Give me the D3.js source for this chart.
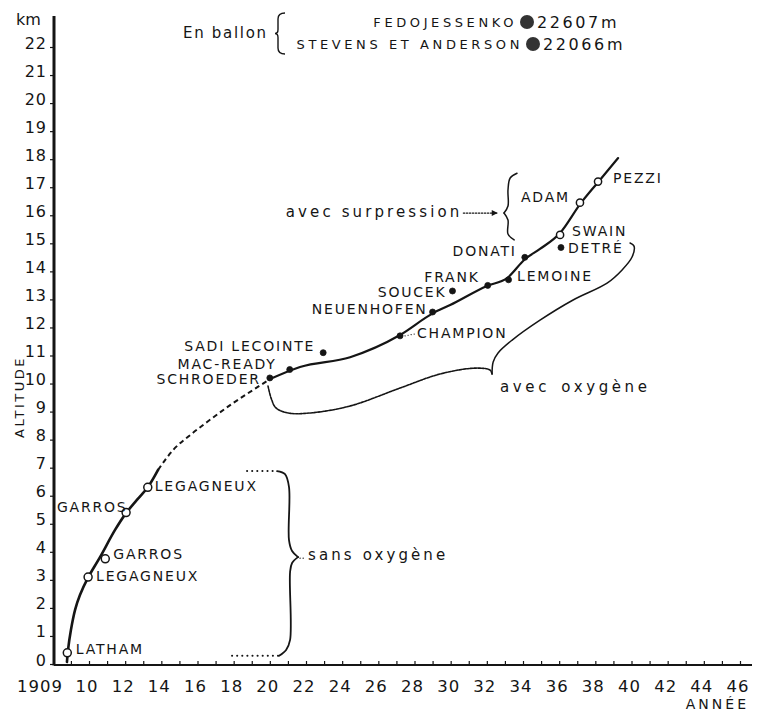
<!DOCTYPE html>
<html><head><meta charset="utf-8">
<script src="https://cdn.jsdelivr.net/npm/d3@7"></script>
<style>
body{margin:0;background:#fff}
svg{display:block}
text{font-family:"DejaVu Sans",sans-serif;fill:#151515}
</style></head><body>
<svg id="c" width="757" height="717"></svg>
<script>
// ---------- data ----------
const pilots = ["LATHAM","LEGAGNEUX","GARROS","GARROS","LEGAGNEUX","SCHROEDER","MAC-READY","SADI LECOINTE","CHAMPION","NEUENHOFEN","SOUCEK","FRANK","LEMOINE","DONATI","SWAIN","DETRÉ","ADAM","PEZZI"];
const recordYears = [1908.8,1909.95,1910.9,1912.05,1913.25,1920,1921.1,1922.95,1927.2,1929.0,1930.1,1932.05,1933.2,1934.1,1936.05,1936.1,1937.15,1938.15];
const recordAltitudes = [0.4,3.1,3.75,5.4,6.3,10.2,10.5,11.1,11.7,12.55,13.3,13.5,13.7,14.5,15.3,14.85,16.45,17.2];
const recordGroups = ["sans","sans","sans","sans","sans","oxy","oxy","oxy","oxy","oxy","oxy","oxy","oxy","oxy","surp","oxy","surp","surp"];

const balloonNames = ["FEDOJESSENKO","STEVENS ET ANDERSON"];
const balloonAltitudes = ["22607m","22066m"];

// trend curves: [year, km]
const curveEarlyYears = [1908.78,1908.84,1909.0,1909.23,1909.5,1909.94,1910.61,1911.44,1912.05,1912.65,1913.26,1913.82];
const curveEarlyKm    = [0.07,0.5,1.21,1.93,2.46,3.07,3.81,4.78,5.38,5.85,6.31,6.92];
const curveGapYears = [1913.82,1914.65,1915.59,1916.53,1917.96,1919.07,1920.01];
const curveGapKm    = [6.92,7.63,8.16,8.63,9.3,9.77,10.16];
const curveLateYears = [1920.01,1921.67,1924.44,1927.2,1929.03,1929.97,1932.01,1933.12,1934.12,1934.94,1936.05,1937.16,1938.15,1939.26];
const curveLateKm    = [10.16,10.59,10.94,11.73,12.51,12.8,13.48,13.76,14.44,14.8,15.37,16.4,17.18,18.04];

// brace "avec oxygène" (two halves meeting at the tip)
const oxyLeftYears = [1919.9,1920.07,1920.34,1921.01,1922.22,1924.44,1927.2,1929.41,1931.35,1932.18,1932.29];
const oxyLeftKm    = [9.91,9.48,9.13,8.95,8.95,9.2,9.84,10.34,10.55,10.48,10.34];
const oxyRightYears = [1932.29,1932.35,1932.62,1933.4,1934.94,1936.77,1938.65,1939.48,1940.03,1940.14,1939.92];
const oxyRightKm    = [10.34,10.77,11.09,11.55,12.26,12.98,13.58,14.05,14.51,14.9,15.01];
// brace "sans oxygène"
const sansTopYears = [1920.4,1920.84,1921.06,1921.06,1921.23,1921.56];
const sansTopKm    = [6.88,6.77,6.31,4.42,4.03,3.81];
const sansBotYears = [1921.56,1921.23,1921.12,1921.12,1920.9,1920.51];
const sansBotKm    = [3.81,3.6,3.28,0.86,0.5,0.29];
const sansDotTopYears = [1918.74,1920.4];
const sansDotTopKm = [6.88,6.88];
const sansDotBotYears = [1917.91,1920.51];
const sansDotBotKm = [0.29,0.29];
// brace "avec surpression"
const surpTopYears = [1933.67,1933.29,1933.17,1933.17,1932.95];
const surpTopKm    = [17.5,17.33,16.9,16.33,16.08];
const surpBotYears = [1932.95,1933.17,1933.17,1933.51];
const surpBotKm    = [16.08,15.83,15.33,15.12];
const surpArrowYears = [1930.7,1932.55];
const surpArrowKm = [16.08,16.08];

const yTicks = d3.range(0,23);
const yTickLabels = ["0","1","2","3","4","5","6","7","8","9","10","11","12","13","14","15","16","17","18","19","20","21","22"];
const xTickValues = [1909,1910,1912,1914,1916,1918,1920,1922,1924,1926,1928,1930,1932,1934,1936,1938,1940,1942,1944,1946];
const xTickLabels = ["1909","10","12","14","16","18","20","22","24","26","28","30","32","34","36","38","40","42","44","46"];
const xMinorTicks = d3.range(1909,1947);

// ---------- layout ----------
const ink = "#151515";
const svg = d3.select("#c");
const x = d3.scaleLinear().domain([1910,1946]).range([89,740]);
const y = d3.scaleLinear().domain([0,22]).range([664,47]);
const axisX = 54;

// label offsets per record [anchor, dx, dy]
const labelLayout = [
 ["start",8.5,-4],["start",8,-1],["start",8,-5],["end",1.5,-6],["start",7,-1],
 ["end",-9,1],["end",-13,-6],["end",-8,-7],["start",17,-3],["end",-5,-3],
 ["end",-6,1.5],["end",-8,-8.5],["start",8.5,-4],["end",-8,-6],["start",12,-4],
 ["start",7,0],["end",-10,-6],["start",15,-4]
];

// Y axis
const yAxis = d3.axisLeft(y).tickValues(yTicks).tickSize(4).tickFormat("");
const gy = svg.append("g").attr("transform",`translate(${axisX},0)`).call(yAxis);
gy.select(".domain").remove();
gy.selectAll(".tick line").attr("stroke",ink).attr("stroke-width",1.2);
svg.append("line").attr("x1",axisX).attr("x2",axisX).attr("y1",y(0)+1.5).attr("y2",16)
  .attr("stroke",ink).attr("stroke-width",3);
svg.selectAll(".ylab").data(yTicks).enter().append("text")
  .attr("x",47).attr("y",d=>y(d)-4).attr("text-anchor","end")
  .attr("dominant-baseline","central").attr("font-size",16).attr("letter-spacing",1)
  .text((d,i)=>yTickLabels[i]);
svg.append("text").attr("x",16).attr("y",19).attr("dominant-baseline","central")
  .attr("font-size",16).text("km");
svg.append("text").attr("transform","translate(19,397) rotate(-90)").attr("text-anchor","middle")
  .attr("dominant-baseline","central").attr("font-size",13).attr("letter-spacing",2.5).text("ALTITUDE");

// X axis
const xAxis = d3.axisBottom(x).tickValues(xMinorTicks).tickSize(-4).tickFormat("");
const gx = svg.append("g").attr("transform",`translate(0,${y(0)+1})`).call(xAxis);
gx.select(".domain").remove();
gx.selectAll(".tick line").attr("stroke",ink).attr("stroke-width",1.2);
svg.append("line").attr("x1",axisX).attr("x2",752).attr("y1",y(0)+1).attr("y2",y(0)+1)
  .attr("stroke",ink).attr("stroke-width",2);
svg.selectAll(".xlab").data(xTickValues).enter().append("text")
  .attr("x",(d,i)=> i===0 ? x(d)-8 : x(d)-2)
  .attr("text-anchor",(d,i)=> i===0 ? "end":"middle")
  .attr("y",686).attr("dominant-baseline","central").attr("font-size",16.5).attr("letter-spacing",1)
  .text((d,i)=>xTickLabels[i]);
svg.append("text").attr("x",749).attr("y",704).attr("text-anchor","end")
  .attr("dominant-baseline","central").attr("font-size",14).attr("letter-spacing",3).text("ANNÉE");

// helpers
const pts = (xs,ys)=> xs.map((v,i)=>[v,ys[i]]);
const line = d3.line().x(d=>x(d[0])).y(d=>y(d[1])).curve(d3.curveCatmullRom.alpha(0.5));
const smooth = d3.line().x(d=>x(d[0])).y(d=>y(d[1])).curve(d3.curveMonotoneX);
const straight = d3.line().x(d=>x(d[0])).y(d=>y(d[1]));

// trend curves
svg.append("path").attr("d",line(pts(curveEarlyYears,curveEarlyKm)))
  .attr("fill","none").attr("stroke",ink).attr("stroke-width",2.6).attr("stroke-linecap","round");
svg.append("path").attr("d",smooth(pts(curveGapYears,curveGapKm)))
  .attr("fill","none").attr("stroke",ink).attr("stroke-width",2).attr("stroke-dasharray","5,3.5");
svg.append("path").attr("d",smooth(pts(curveLateYears,curveLateKm)))
  .attr("fill","none").attr("stroke",ink).attr("stroke-width",2.2).attr("stroke-linecap","round");

// braces
const braceStyle = (p,w,dash)=> p.attr("fill","none").attr("stroke",ink).attr("stroke-width",w)
  .attr("stroke-dasharray",dash||null).attr("stroke-linecap","round");
braceStyle(svg.append("path").attr("d",line(pts(oxyLeftYears,oxyLeftKm))),1.6,"2.5,1.2");
braceStyle(svg.append("path").attr("d",line(pts(oxyRightYears,oxyRightKm))),1.5);
braceStyle(svg.append("path").attr("d",line(pts(sansTopYears,sansTopKm))),1.8);
braceStyle(svg.append("path").attr("d",line(pts(sansBotYears,sansBotKm))),1.8);
braceStyle(svg.append("path").attr("d",straight(pts(sansDotTopYears,sansDotTopKm))),2,"0.1,5");
braceStyle(svg.append("path").attr("d",straight(pts(sansDotBotYears,sansDotBotKm))),2,"0.1,5");
braceStyle(svg.append("path").attr("d",line(pts(surpTopYears,surpTopKm))),1.5);
braceStyle(svg.append("path").attr("d",line(pts(surpBotYears,surpBotKm))),1.5);
braceStyle(svg.append("path").attr("d",straight(pts(surpArrowYears,surpArrowKm))),1.2,"1.5,1.5");
{
  const ax = x(surpArrowYears[1]), ay = y(surpArrowKm[1]);
  svg.append("path").attr("d",`M${ax-5},${ay-3}L${ax+1},${ay}L${ax-5},${ay+3}Z`).attr("fill",ink);
}

// annotations
const tipOxy = [x(oxyLeftYears[oxyLeftYears.length-1]), y(oxyLeftKm[oxyLeftKm.length-1])];
svg.append("text").attr("x",tipOxy[0]+8).attr("y",tipOxy[1]+13).attr("dominant-baseline","central")
  .attr("font-size",15).attr("letter-spacing",3.6).attr("word-spacing",3).text("avec oxygène");
const tipSans = [x(sansTopYears[sansTopYears.length-1]), y(sansTopKm[sansTopKm.length-1])];
braceStyle(svg.append("line").attr("x1",tipSans[0]+2).attr("x2",tipSans[0]+8)
  .attr("y1",tipSans[1]+1).attr("y2",tipSans[1]+1),1.3,"0.1,3");
svg.append("text").attr("x",tipSans[0]+10).attr("y",tipSans[1]-2).attr("dominant-baseline","central")
  .attr("font-size",15).attr("letter-spacing",3.1).text("sans oxygène");
svg.append("text").attr("x",x(surpArrowYears[0])-1).attr("y",y(surpArrowKm[0])-1).attr("text-anchor","end")
  .attr("dominant-baseline","central").attr("font-size",15).attr("letter-spacing",3.1).text("avec surpression");

// record markers
const recs = pilots.map((n,i)=>({name:n,year:recordYears[i],alt:recordAltitudes[i],group:recordGroups[i],lay:labelLayout[i]}));
svg.selectAll(".rec").data(recs).enter().append("circle")
  .attr("cx",d=>x(d.year)).attr("cy",d=>y(d.alt))
  .attr("r",d=> d.group==="sans"?4: d.group==="surp"?3.6:3)
  .attr("fill",d=> d.group==="sans"?"#fff": d.group==="surp"?"#fff":ink)
  .attr("stroke",ink).attr("stroke-width",d=> d.group==="oxy"?0.8:1.5);
// leader for CHAMPION
{
  const c = recs[8];
  braceStyle(svg.append("line").attr("x1",x(c.year)+5).attr("x2",x(c.year)+15)
    .attr("y1",y(c.alt)).attr("y2",y(c.alt)-2),1.2,"0.1,3");
}
svg.selectAll(".reclab").data(recs).enter().append("text")
  .attr("x",d=>x(d.year)+d.lay[1]).attr("y",d=>y(d.alt)+d.lay[2])
  .attr("text-anchor",d=>d.lay[0]).attr("dominant-baseline","central")
  .attr("font-size",14).attr("letter-spacing",1.8).text(d=>d.name);

// balloon legend
const legRows = [22,44];
svg.append("text").attr("x",183).attr("y",33).attr("dominant-baseline","central")
  .attr("font-size",15).attr("letter-spacing",1.7).text("En ballon");
{
  const bx=275, y1=13, y2=54, ym=(y1+y2)/2, w=10;
  svg.append("path").attr("d",
    `M${bx+w},${y1} Q${bx+3},${y1} ${bx+3},${y1+6} L${bx+3},${ym-4} Q${bx+3},${ym} ${bx},${ym} Q${bx+3},${ym} ${bx+3},${ym+4} L${bx+3},${y2-6} Q${bx+3},${y2} ${bx+w},${y2}`)
    .attr("fill","none").attr("stroke",ink).attr("stroke-width",1.4);
}
const legDotX = [527,533];
balloonNames.forEach((n,i)=>{
  svg.append("text").attr("x",legDotX[i]-10).attr("y",legRows[i]).attr("text-anchor","end")
    .attr("dominant-baseline","central").attr("font-size",13).attr("letter-spacing",3.6).text(n);
  svg.append("circle").attr("cx",legDotX[i]).attr("cy",legRows[i]).attr("r",7).attr("fill","#333");
  svg.append("text").attr("x",legDotX[i]+10).attr("y",legRows[i]).attr("dominant-baseline","central")
    .attr("font-size",16).attr("letter-spacing",2.6).text(balloonAltitudes[i]);
});
</script>
</body></html>
